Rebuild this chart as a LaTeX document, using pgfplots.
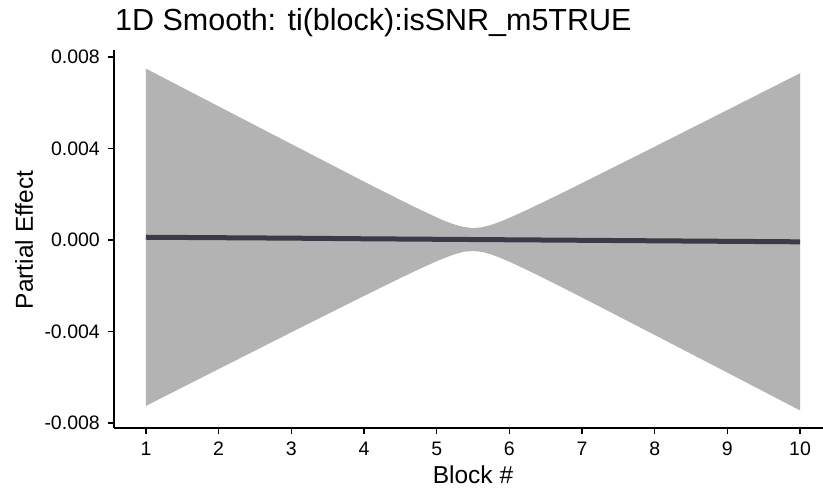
\documentclass[border=0pt]{standalone}
\usepackage{pgfplots}
\pgfplotsset{compat=1.18}
\usepackage{pgfplotstable}
\usepackage{fontspec}
\setmainfont{Liberation Sans}
\definecolor{ribbon}{HTML}{B3B3B3}
\definecolor{fitline}{HTML}{3D3947}

\pgfplotstableread{
x      y
1      0.00749
2      0.005841
3      0.004196
4      0.002554
4.25   0.002151
4.5    0.001751
4.75   0.001361
5      0.000989
5.125  0.000814
5.25   0.000672
5.375  0.000568
5.5    0.00052
5.625  0.000557
5.75   0.00066
5.875  0.000803
6      0.000967
6.25   0.001327
6.5    0.001707
6.75   0.002095
7      0.002488
8      0.00408
9      0.005683
10     0.00729
10     -0.00745
9      -0.005799
8      -0.004152
7      -0.002514
6.75   -0.002111
6.5    -0.001711
6.25   -0.001321
6      -0.000949
5.875  -0.000779
5.75   -0.000632
5.625  -0.000523
5.5    -0.00048
5.375  -0.000512
5.25   -0.00062
5.125  -0.000768
5      -0.000927
4.75   -0.001287
4.5    -0.001667
4.25   -0.002055
4      -0.002448
3      -0.004036
2      -0.005641
1      -0.00725
}\ribbondata

\pgfplotstableread{
x      fit
1      0.00012
2      0.00010
3      0.00008
4      0.000053
5      0.000031
6      0.000009
7      -0.000013
8      -0.000036
9      -0.000058
10     -0.00008
}\fitdata

\begin{document}
\begin{tikzpicture}
\begin{axis}[
  at={(0pt,0pt)}, anchor=south west,
  scale only axis, width=709pt, height=378pt,
  xmin=0.5597, xmax=10.316,
  ymin=-0.008219, ymax=0.008306,
  axis x line=bottom, axis y line=left,
  axis line style={-, line width=1.6pt, black},
  tick align=outside, major tick length=6pt,
  every tick/.style={black, line width=1.6pt},
  scaled y ticks=false, scaled x ticks=false,
  xtick={1,2,3,4,5,6,7,8,9,10},
  xticklabels={1,2,3,4,5,6,7,8,9,10},
  ytick={-0.008,-0.004,0,0.004,0.008},
  yticklabels={-0.008,-0.004,0.000,0.004,0.008},
  /pgf/number format/assume math mode=true,
  tick label style={font=\fontsize{19.5}{21}\selectfont, text=black},
  xticklabel style={anchor=north, inner sep=0pt, yshift=-8pt},
  yticklabel style={anchor=east, inner sep=0pt, xshift=-8pt},
]
\addplot[fill=ribbon, draw=none] table[x=x, y=y] {\ribbondata} -- cycle;
\addplot[fitline, line width=5pt] table[x=x, y=fit] {\fitdata};
\end{axis}
\node[anchor=base west, inner sep=0pt, font=\fontsize{30.5}{32}\selectfont] at (1pt,397pt) {1D Smooth: ti(block):isSNR\_m5TRUE};
\node[anchor=base, inner sep=0pt, font=\fontsize{24.5}{26}\selectfont] at (359pt,-56pt) {Block \#};
\node[anchor=base, rotate=90, inner sep=0pt, font=\fontsize{24.5}{26}\selectfont] at (-81pt,188pt) {Partial Effect};
\pgfresetboundingbox
\useasboundingbox (-114pt,-61pt) rectangle (709pt,428pt);
\end{tikzpicture}
\end{document}
